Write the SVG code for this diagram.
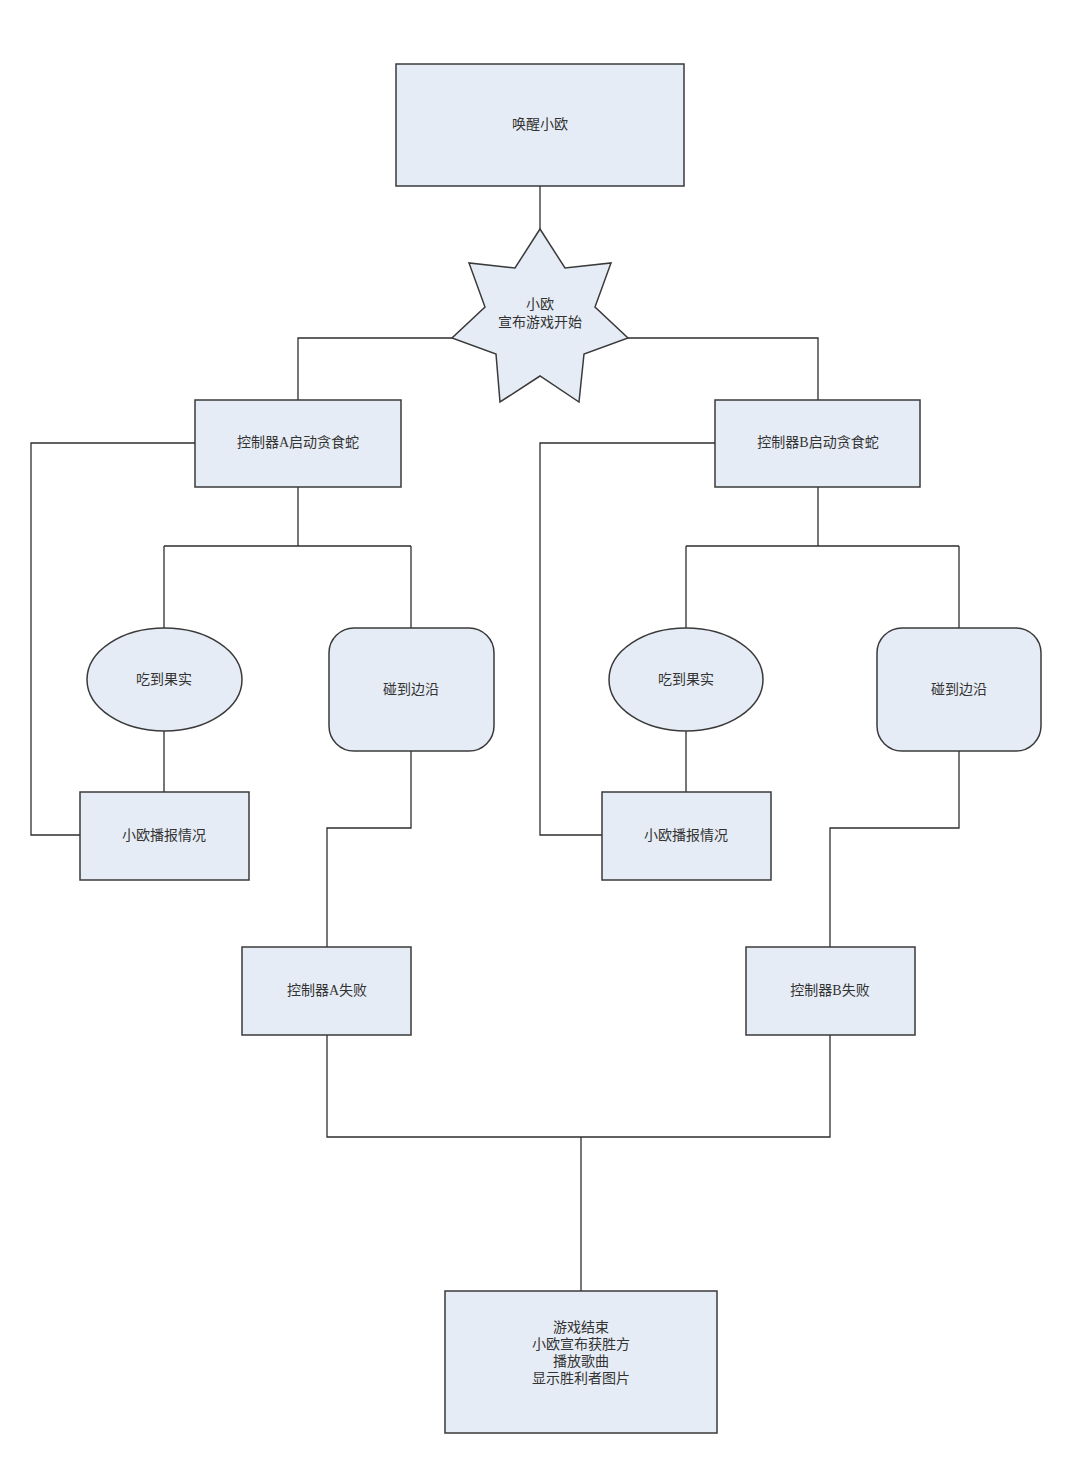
<svg xmlns="http://www.w3.org/2000/svg" width="1080" height="1471" viewBox="0 0 1080 1471">
<style>
.n{fill:#e6ecf5;stroke:#3a3a3a;stroke-width:1.5}
.c{fill:none;stroke:#2e2e2e;stroke-width:1.3}
text{font-family:"Liberation Serif","Noto Sans CJK SC",serif;font-size:14px;fill:#333;text-anchor:middle;dominant-baseline:central}
</style>
<rect width="1080" height="1471" fill="#fff"/>
<g id="connectors">
<path class="c" d="M540,186V229"/>
<path class="c" d="M452,338H298V400"/>
<path class="c" d="M628,338H818V400"/>
<path class="c" d="M195,443H31V835H80"/>
<path class="c" d="M298,487V546M164,546H411M164,546V628M411,546V628"/>
<path class="c" d="M164,731V792"/>
<path class="c" d="M411,751V828H327V947"/>
<path class="c" d="M715,443H540V835H602"/>
<path class="c" d="M818,487V546M686,546H959M686,546V628M959,546V628"/>
<path class="c" d="M686,731V792"/>
<path class="c" d="M959,751V828H830V947"/>
<path class="c" d="M327,1035V1137H830V1035"/>
<path class="c" d="M581,1137V1291"/>
</g>
<g id="wake">
<rect class="n" x="396" y="64" width="288" height="122"/>
<text x="540" y="124">唤醒小欧</text>
</g>
<g id="start">
<polygon class="n" points="540,229 565,268 611,263 595,307 628,338 584,354 579,402 540,376 500,402 496,354 452,338 485,307 469,263 515,268"/>
<text x="540" y="304">小欧</text>
<text x="540" y="322">宣布游戏开始</text>
</g>
<g id="ctrlA">
<rect class="n" x="195" y="400" width="206" height="87"/>
<text x="298" y="442">控制器A启动贪食蛇</text>
</g>
<g id="ctrlB">
<rect class="n" x="715" y="400" width="205" height="87"/>
<text x="818" y="442">控制器B启动贪食蛇</text>
</g>
<g id="eatA">
<ellipse class="n" cx="164.5" cy="679.5" rx="77.5" ry="51.5"/>
<text x="164" y="679">吃到果实</text>
</g>
<g id="edgeA">
<rect class="n" x="329" y="628" width="165" height="123" rx="25" ry="25"/>
<text x="411" y="689">碰到边沿</text>
</g>
<g id="eatB">
<ellipse class="n" cx="686" cy="679.5" rx="77" ry="51.5"/>
<text x="686" y="679">吃到果实</text>
</g>
<g id="edgeB">
<rect class="n" x="877" y="628" width="164" height="123" rx="25" ry="25"/>
<text x="959" y="689">碰到边沿</text>
</g>
<g id="reportA">
<rect class="n" x="80" y="792" width="169" height="88"/>
<text x="164" y="835">小欧播报情况</text>
</g>
<g id="reportB">
<rect class="n" x="602" y="792" width="169" height="88"/>
<text x="686" y="835">小欧播报情况</text>
</g>
<g id="failA">
<rect class="n" x="242" y="947" width="169" height="88"/>
<text x="327" y="990">控制器A失败</text>
</g>
<g id="failB">
<rect class="n" x="746" y="947" width="169" height="88"/>
<text x="830" y="990">控制器B失败</text>
</g>
<g id="end">
<rect class="n" x="445" y="1291" width="272" height="142"/>
<text x="581" y="1327">游戏结束</text>
<text x="581" y="1344">小欧宣布获胜方</text>
<text x="581" y="1361">播放歌曲</text>
<text x="581" y="1378">显示胜利者图片</text>
</g>
</svg>
